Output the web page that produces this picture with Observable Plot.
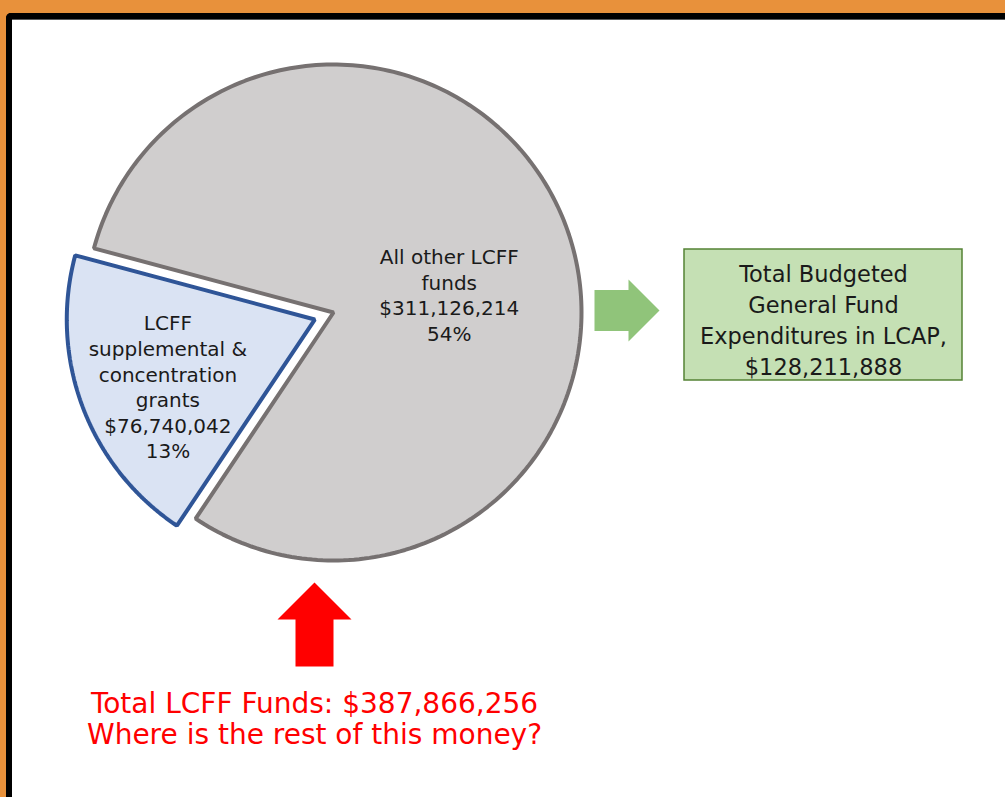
<!DOCTYPE html>
<html><head><meta charset="utf-8">
<script src="https://cdn.jsdelivr.net/npm/d3@7"></script>
<script src="https://cdn.jsdelivr.net/npm/@observablehq/plot@0.6"></script>
<style>
html,body{margin:0;padding:0;background:#e8913b;width:1005px;height:797px;overflow:hidden;}
#frame{position:absolute;left:6px;top:13px;width:1020px;height:800px;background:#fff;border-top:6px solid #000;border-left:6px solid #000;border-top-left-radius:5px;box-shadow:inset 0 1px 0 #5a5a5a;}
#chart{position:absolute;left:0;top:0;}
</style></head><body><div id="frame"></div><div id="chart"></div>
<script>
// ---- data ----
const categories = ["All other LCFF\nfunds", "LCFF\nsupplemental &\nconcentration\ngrants"];
const amounts = [311126214, 76740042];
const shares = ["54%", "13%"];
const budgetLabel = "Total Budgeted\nGeneral Fund\nExpenditures in LCAP,";
const budgetAmount = 128211888;
const totalLabel = "Total LCFF Funds:";
const totalFunds = 387866256;
const question = "Where is the rest of this money?";

// ---- layout / style ----
const W = 1005, H = 797;
const cx = 333, cy = 312, R = 248, explode = 20;
const FONT = "DejaVu Sans";
const fmt = d3.format("$,");
const sliceFill = ["#d0cece", "#dae3f3"];
const sliceStroke = ["#767171", "#2f5597"];
const labelRadius = [0.46, 0.65];
const labelShift = [[9, 22], [4, 10]];

const deg = Math.PI / 180;
const arcs = d3.pie().sort(null).startAngle(-75 * deg).endAngle(285 * deg)(amounts);

const slices = arcs.map((s, i) => {
  const mid = (s.startAngle + s.endAngle) / 2;
  const off = i === 1 ? explode : 0;
  const ox = cx + off * Math.sin(mid), oy = cy - off * Math.cos(mid);
  const pts = [{x: ox, y: oy}];
  const n = 240;
  for (let j = 0; j <= n; j++) {
    const a = s.startAngle + (s.endAngle - s.startAngle) * j / n;
    pts.push({x: ox + R * Math.sin(a), y: oy - R * Math.cos(a)});
  }
  const lr = labelRadius[i] * R;
  const label = {
    x: ox + lr * Math.sin(mid) + labelShift[i][0],
    y: oy - lr * Math.cos(mid) + labelShift[i][1],
    text: `${categories[i]}\n${fmt(amounts[i])}\n${shares[i]}`
  };
  return {pts, label};
});

// block arrow builder: tip point, direction, total length, head length, head half-width, shaft half-width
function blockArrow(tx, ty, dir, len, headLen, headHalf, shaftHalf) {
  const [ux, uy] = dir;
  const px = -uy, py = ux;
  const hb = [tx - ux * headLen, ty - uy * headLen];
  const tail = [tx - ux * len, ty - uy * len];
  return [
    [tx, ty],
    [hb[0] + px * headHalf, hb[1] + py * headHalf],
    [hb[0] + px * shaftHalf, hb[1] + py * shaftHalf],
    [tail[0] + px * shaftHalf, tail[1] + py * shaftHalf],
    [tail[0] - px * shaftHalf, tail[1] - py * shaftHalf],
    [hb[0] - px * shaftHalf, hb[1] - py * shaftHalf],
    [hb[0] - px * headHalf, hb[1] - py * headHalf]
  ].map(([x, y]) => ({x, y}));
}
const greenArrow = blockArrow(659, 310, [1, 0], 65, 31, 31, 20.5);
const redArrow = blockArrow(314, 582, [0, -1], 84, 37, 37, 19);

const box = [{x1: 684, x2: 962, y1: 249, y2: 380}];
const boxText = [{x: 823, y: 318, text: `${budgetLabel}\n${fmt(budgetAmount)}`}];
const bottomText = [{x: 314, y: 718, text: `${totalLabel} ${fmt(totalFunds)}\n${question}`}];

const chart = Plot.plot({
  width: W, height: H, margin: 0,
  x: {domain: [0, W], range: [0, W], axis: null},
  y: {domain: [0, H], range: [0, H], axis: null},
  style: {background: "transparent", fontFamily: FONT, overflow: "visible"},
  marks: [
    Plot.line(slices[0].pts, {x: "x", y: "y", curve: "linear-closed", fill: sliceFill[0], stroke: sliceStroke[0], strokeWidth: 4, strokeLinejoin: "miter"}),
    Plot.line(slices[1].pts, {x: "x", y: "y", curve: "linear-closed", fill: sliceFill[1], stroke: sliceStroke[1], strokeWidth: 4, strokeLinejoin: "miter"}),
    Plot.text(slices.map(s => s.label), {x: "x", y: "y", text: "text", fontSize: 20, lineHeight: 1.28, fill: "#1a1a1a", fontFamily: FONT}),
    Plot.line(greenArrow, {x: "x", y: "y", curve: "linear-closed", fill: "#90c47a", stroke: "none"}),
    Plot.line(redArrow, {x: "x", y: "y", curve: "linear-closed", fill: "#ff0000", stroke: "none"}),
    Plot.rect(box, {x1: "x1", x2: "x2", y1: "y1", y2: "y2", fill: "#c5e0b4", stroke: "#548235", strokeWidth: 1.5}),
    Plot.text(boxText, {x: "x", y: "y", text: "text", fontSize: 22.5, lineHeight: 1.38, fill: "#1a1a1a", fontFamily: FONT}),
    Plot.text(bottomText, {x: "x", y: "y", text: "text", fontSize: 28, lineHeight: 1.12, fill: "#ff0000", fontFamily: FONT})
  ]
});
document.getElementById("chart").appendChild(chart);
</script>
</body></html>
